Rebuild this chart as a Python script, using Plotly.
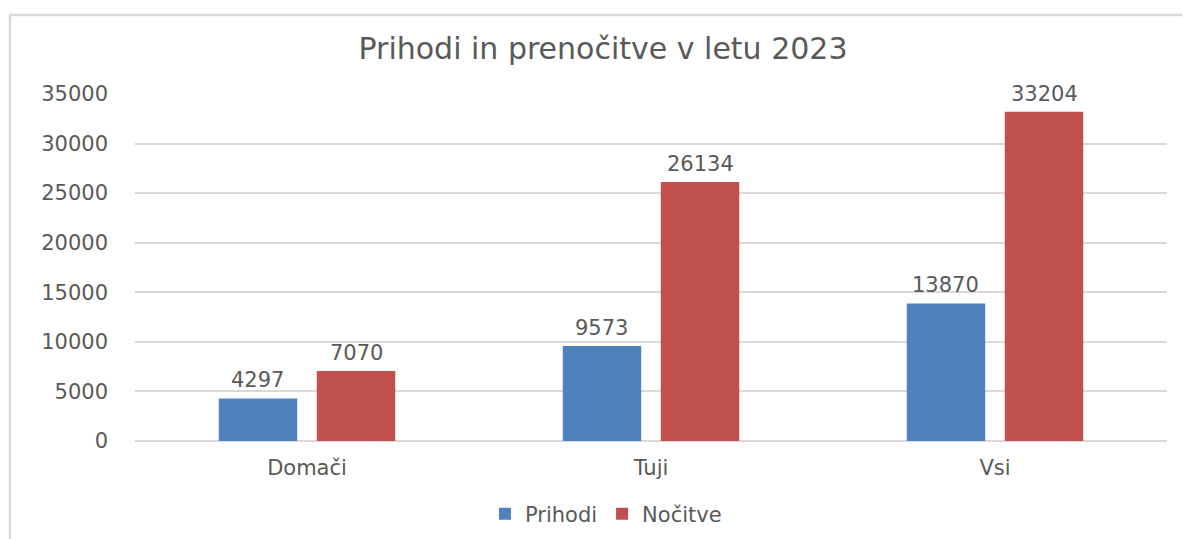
import plotly.graph_objects as go

categories = ["Domači", "Tuji", "Vsi"]
prihodi = [4297, 9573, 13870]
nocitve = [7070, 26134, 33204]
series_names = ["Prihodi", "Nočitve"]
y_ticks = [0, 5000, 10000, 15000, 20000, 25000, 30000, 35000]
title_text = "Prihodi in prenočitve v letu 2023"

FONT = "DejaVu Sans"
GRAY = "#595959"
BLUE = "#4F81BD"
RED = "#C0504D"

W, H = 1190, 539
OFF = 8  # page body margin
L, R, T = 135 - OFF, 23 + OFF, 94 - OFF
B = H - (441 - OFF)
pw, ph = W - L - R, H - T - B

fig = go.Figure()
for name, vals, col in [(series_names[0], prihodi, BLUE), (series_names[1], nocitve, RED)]:
    fig.add_trace(go.Bar(
        x=categories, y=vals, name=name,
        marker=dict(color=col, line=dict(width=0)),
        cliponaxis=False,
    ))

# data labels
slot = 0.57 / 2
for k, vals in enumerate([prihodi, nocitve]):
    for c, v in zip(categories, vals):
        fig.add_annotation(x=c, y=v, text=str(v), showarrow=False,
                           xshift=(k - 0.5) * slot * pw / 3, yshift=4, yanchor="bottom",
                           font=dict(family=FONT, size=21, color=GRAY))

fig.update_layout(
    width=W, height=H,
    margin=dict(l=L, r=R, t=T, b=B),
    paper_bgcolor="white", plot_bgcolor="white",
    barmode="group", bargap=0.43, bargroupgap=0.2,
    title=dict(text=title_text, x=0.5, xref="container", y=1 - (48 - OFF) / H, yanchor="middle",
               font=dict(family=FONT, size=30, color=GRAY)),
    font=dict(family=FONT, color=GRAY),
    xaxis=dict(showgrid=False, showline=False, ticks="", ticklabelstandoff=12,
               tickfont=dict(family=FONT, size=21, color=GRAY)),
    yaxis=dict(range=[0, 35000], tickvals=y_ticks, ticktext=[str(v) for v in y_ticks],
               showgrid=True, gridcolor="#d9d9d9", gridwidth=1.5,
               zeroline=True, zerolinecolor="#d9d9d9", zerolinewidth=1.5,
               showline=False, ticks="", ticklabelstandoff=26,
               tickfont=dict(family=FONT, size=21, color=GRAY)),
    legend=dict(orientation="h", x=(606 - 135) / (1167 - 135), xanchor="center",
                y=(441 - 514) / ph, yanchor="middle",
                font=dict(family=FONT, size=21, color=GRAY), itemwidth=30, traceorder="normal"),
    showlegend=True,
)

fig.add_shape(type="rect", xref="paper", yref="paper",
              x0=(10 - 135) / pw, x1=1.2, y0=-0.5, y1=(441 - 15) / ph,
              line=dict(color="#d9d9d9", width=2.5), fillcolor="rgba(0,0,0,0)", layer="below")

fig.write_html("out.html")
